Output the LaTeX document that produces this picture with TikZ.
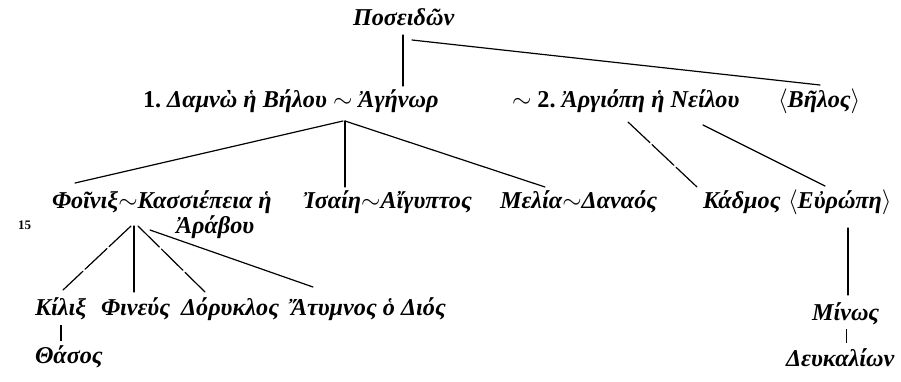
\documentclass[tikz,border=0pt]{standalone}
\usepackage{fontspec}
\setmainfont{Liberation Serif}
\begin{document}
\begin{tikzpicture}[x=1pt,y=-1pt,
  gr/.style={inner sep=0pt,outer sep=0pt,anchor=base west,font=\fontsize{24.2}{28}\selectfont\bfseries\itshape},
  num/.style={inner sep=0pt,anchor=base west,font=\fontsize{13}{15}\selectfont\bfseries},
  link/.style={line width=1.2pt,line cap=round},
  brk/.style={link,dash pattern=on 30pt off 3pt}]
\useasboundingbox (0,0) rectangle (901,381);
% texts
\node[gr] (pos) at (353,25) {Ποσειδῶν};
\node[gr] (dam) at (143,107) {\upshape 1.\ \itshape Δαμνὼ ἡ Βήλου $\sim$ Ἀγήνωρ};
\node[gr] (arg) at (512,107) {$\sim$ \upshape 2.\ \itshape Ἀργιόπη ἡ Νείλου};
\node[gr] (bel) at (778,107) {$\langle$Βῆλος$\rangle$};
\node[gr] (phoi) at (52,208) {Φοῖνιξ$\sim$Κασσιέπεια ἡ};
\node[gr] (arab) at (176,233) {Ἀράβου};
\node[gr] (isa) at (303,208) {Ἰσαίη$\sim$Αἴγυπτος};
\node[gr] (mel) at (500,208) {Μελία$\sim$Δαναός};
\node[gr] (kad) at (703,208) {Κάδμος};
\node[gr] (eur) at (788,208) {$\langle$Εὐρώπη$\rangle$};
\node[num] (fif) at (18,229) {15};
\node[gr] (kil) at (35,315) {Κίλιξ};
\node[gr] (phin) at (101,315) {Φινεύς};
\node[gr] (dor) at (181,315) {Δόρυκλος};
\node[gr] (aty) at (291,315) {Ἄτυμνος ὁ Διός};
\node[gr] (tha) at (35,363) {Θάσος};
\node[gr] (min) at (812,320) {Μίνως};
\node[gr] (deu) at (786,366) {Δευκαλίων};
% connector points
\coordinate (p1) at (403,35); \coordinate (p2) at (403,86);
\coordinate (p3) at (412,40); \coordinate (p4) at (820,85);
\coordinate (a0) at (343,121); \coordinate (a1) at (75,183);
\coordinate (a2t) at (345,121); \coordinate (a2) at (345,187);
\coordinate (a3) at (545,187);
\coordinate (g1) at (628,122); \coordinate (g2) at (697,187);
\coordinate (g3) at (703,125); \coordinate (g4) at (825,186);
\coordinate (f0) at (131,226); \coordinate (f1) at (63,290);
\coordinate (f2t) at (134,226); \coordinate (f2) at (134,292);
\coordinate (f3t) at (138,226); \coordinate (f3) at (205,292);
\coordinate (f4t) at (150,230); \coordinate (f4) at (313,287);
\coordinate (k1) at (61,325); \coordinate (k2) at (61,341);
\coordinate (e1) at (848,228); \coordinate (e2) at (848,295);
\coordinate (m1) at (846,329); \coordinate (m2) at (846,343);
% connectors
\draw[link] (p1) -- (p2);
\draw[link] (p3) -- (p4);
\draw[link] (a0) -- (a1);
\draw[link] (a2t) -- (a2);
\draw[link] (a2t) -- (a3);
\draw[brk] (g1) -- (g2);
\draw[link] (g3) -- (g4);
\draw[brk] (f0) -- (f1);
\draw[link] (f2t) -- (f2);
\draw[brk] (f3t) -- (f3);
\draw[link] (f4t) -- (f4);
\draw[line width=2pt] (k1) -- (k2);
\draw[link] (e1) -- (e2);
\draw[line width=0.9pt] (m1) -- (m2);
\end{tikzpicture}
\end{document}
